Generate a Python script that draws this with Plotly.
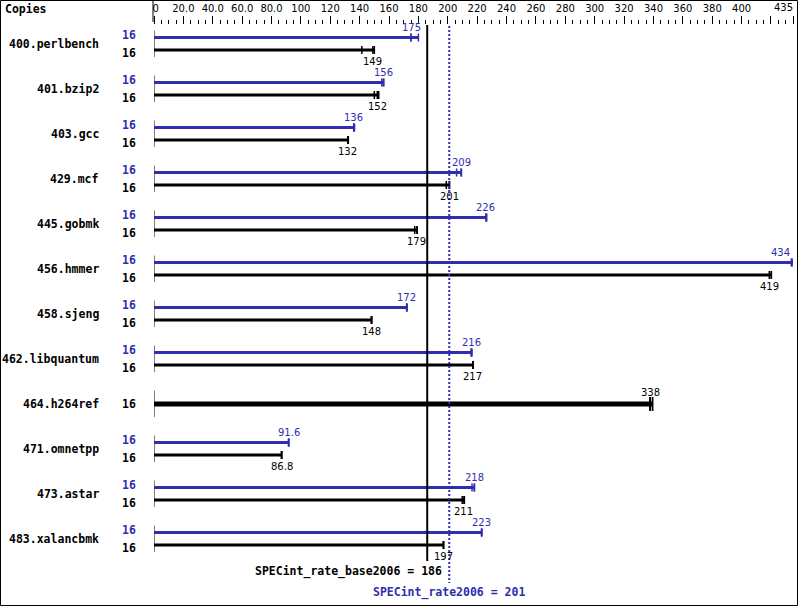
import plotly.graph_objects as go

# ---------------- data ----------------
benchmarks = ["400.perlbench", "401.bzip2", "403.gcc", "429.mcf", "445.gobmk",
              "456.hmmer", "458.sjeng", "462.libquantum", "464.h264ref",
              "471.omnetpp", "473.astar", "483.xalancbmk"]
copies_base = [16] * 12
copies_peak = [16] * 12
base_scores = [149, 152, 132, 201, 179, 419, 148, 217, 338, 86.8, 211, 197]
peak_scores = [175, 156, 136, 209, 226, 434, 172, 216, 338, 91.6, 218, 223]
base_runs = [[141.5, 149, 150], [150, 152, 153], [132, 132, 132.3], [199, 201, 201.2],
             [177.5, 179, 179.2], [419, 419, 420.3], [148, 148, 148.3], [217, 217, 217.3],
             [337.5, 338, 339.5], [86.8, 86.8, 87.0], [209.8, 211, 211.3], [197, 197, 197.2]]
peak_runs = [[175, 175, 180], [155, 156, 156.5], [136, 136, 136.5], [206, 209, 209.3],
             [226, 226, 226.5], [434, 434, 435], [172, 172, 172.3], [216, 216, 216.5],
             [337.5, 338, 339.5], [91.6, 91.6, 91.8], [216.5, 218, 218.2], [223, 223, 223.2]]
overall_base = 186
overall_peak = 201
tick_vals = [0, 20, 40, 60, 80, 100, 120, 140, 160, 180, 200, 220, 240, 260, 280,
             300, 320, 340, 360, 380, 400, 420, 435]
tick_text = ["\u00a00", "20.0", "40.0", "60.0", "80.0", "100", "120", "140", "160", "180",
             "200", "220", "240", "260", "280", "300", "320", "340", "360", "380",
             "400", "", ""]
x_max = 435
x_max_label = "435"

# ---------------- style ----------------
BLUE = "#2e2eae"
BLACK = "#000000"
MONO = "DejaVu Sans Mono"
SANS = "DejaVu Sans"
W, H = 799, 606
ML, MR, MT, MB = 154, 6, 25, 0
ROW_PX = 45
FIRST_ROW_PX = 44
plot_h = H - MT - MB
y_top = (MT - FIRST_ROW_PX) / ROW_PX
y_bot = (H - FIRST_ROW_PX) / ROW_PX

def px(p):
    return p / ROW_PX

fig = go.Figure()
annotations = []
shapes = []

def seg_trace(xs, ys, color, width):
    fig.add_trace(go.Scatter(x=xs, y=ys, mode="lines", line=dict(color=color, width=width),
                             hoverinfo="skip", showlegend=False, cliponaxis=False))

axis_x, axis_y = [], []
lines = {BLUE: ([], []), BLACK: ([], [])}
ticks = {BLUE: ([], []), BLACK: ([], [])}
thick_x, thick_y, thick_tx, thick_ty = [], [], [], []

for i, name in enumerate(benchmarks):
    axis_x += [0, 0, None]
    axis_y += [i - px(13.5), i + px(13), None]
    annotations.append(dict(x=0, y=i, xref="x", yref="y", text="<b>%s</b>" % name,
                            xanchor="right", yanchor="middle", xshift=-53, showarrow=False,
                            font=dict(family=MONO, size=11.5, color=BLACK)))
    combined = base_runs[i] == peak_runs[i]
    if combined:
        runs = base_runs[i]
        thick_x += [0, max(runs), None]
        thick_y += [i, i, None]
        for r in runs:
            thick_tx += [r, r, None]
            thick_ty += [i - px(7), i + px(7), None]
        annotations.append(dict(x=0, y=i, xref="x", yref="y", text="<b>%d</b>" % copies_base[i],
                                xanchor="right", yanchor="middle", xshift=-16, showarrow=False,
                                font=dict(family=MONO, size=11.5, color=BLACK)))
        annotations.append(dict(x=base_scores[i], y=i - px(12), xref="x", yref="y",
                                text="%g" % base_scores[i], xanchor="center", yanchor="middle",
                                showarrow=False, font=dict(family=SANS, size=10, color=BLACK)))
        continue
    for runs, score, cp, color, dy, ldy in [
        (peak_runs[i], peak_scores[i], copies_peak[i], BLUE, -px(6.5), -px(17)),
        (base_runs[i], base_scores[i], copies_base[i], BLACK, px(6), px(17)),
    ]:
        yy = i + dy
        lines[color][0].extend([0, max(runs), None])
        lines[color][1].extend([yy, yy, None])
        for r in runs:
            ticks[color][0].extend([r, r, None])
            ticks[color][1].extend([yy - px(4), yy + px(4), None])
        annotations.append(dict(x=0, y=i + (-px(9) if color == BLUE else px(9)), xref="x", yref="y",
                                text="<b>%d</b>" % cp, xanchor="right", yanchor="middle",
                                xshift=-16, showarrow=False,
                                font=dict(family=MONO, size=11.5, color=color)))
        right = score > x_max - 10
        annotations.append(dict(x=score, y=i + ldy, xref="x", yref="y", text="%g" % score,
                                xanchor="right" if right else "center", yanchor="middle",
                                showarrow=False, font=dict(family=SANS, size=10, color=color)))

seg_trace(axis_x, axis_y, BLACK, 1)
for color in (BLACK, BLUE):
    seg_trace(lines[color][0], lines[color][1], color, 3)
    seg_trace(ticks[color][0], ticks[color][1], color, 1.5)
seg_trace(thick_x, thick_y, BLACK, 5)
seg_trace(thick_tx, thick_ty, BLACK, 1.5)

# overall score lines
shapes.append(dict(type="line", xref="x", yref="y", x0=overall_base, x1=overall_base,
                   y0=y_top - px(3), y1=11 + px(517 - 495), line=dict(color=BLACK, width=2), layer="above"))
shapes.append(dict(type="line", xref="x", yref="y", x0=overall_peak, x1=overall_peak,
                   y0=y_top - px(3), y1=11 + px(539 - 495), line=dict(color=BLUE, width=2, dash="2px,2px"),
                   layer="above"))
annotations.append(dict(x=overall_peak, y=11 + px(571 - 539), xref="x", yref="y",
                        text="<b>SPECint_rate_base2006 = %d</b>" % overall_base,
                        xanchor="right", yanchor="middle", xshift=-5, showarrow=False,
                        font=dict(family=MONO, size=11.5, color=BLACK)))
annotations.append(dict(x=overall_peak, y=11 + px(592 - 539), xref="x", yref="y",
                        text="<b>SPECint_rate2006 = %d</b>" % overall_peak,
                        xanchor="center", yanchor="middle", showarrow=False,
                        font=dict(family=MONO, size=11.5, color=BLUE)))

# header
annotations.append(dict(x=0, y=1 + 16 / plot_h, xref="paper", yref="paper", text="<b>Copies</b>",
                        xanchor="right", yanchor="middle", xshift=-105, showarrow=False,
                        font=dict(family=MONO, size=11.5, color=BLACK)))
annotations.append(dict(x=x_max, y=1 + 17 / plot_h, xref="x", yref="paper", text=x_max_label,
                        xanchor="right", yanchor="middle", xshift=2, showarrow=False,
                        font=dict(family=SANS, size=10, color=BLACK)))
pw = W - ML - MR
shapes.append(dict(type="line", xref="paper", yref="paper", x0=-1 / pw, x1=-1 / pw,
                   y0=1 + 3 / plot_h, y1=1 + MT / plot_h, line=dict(color=BLACK, width=1)))
# frame
shapes.append(dict(type="rect", xref="paper", yref="paper",
                   x0=-(ML - 0.5) / pw, x1=(W - ML - 1.5) / pw,
                   y0=1 - (H - MT - 0.5) / plot_h, y1=1 + (MT - 0.5) / plot_h,
                   line=dict(color=BLACK, width=1)))

fig.update_layout(
    width=W, height=H, margin=dict(l=ML, r=MR, t=MT, b=MB, autoexpand=False),
    paper_bgcolor="white", plot_bgcolor="white",
    showlegend=False, annotations=annotations, shapes=shapes,
    xaxis=dict(range=[0, x_max], side="top", tickmode="array", tickvals=tick_vals,
               ticktext=tick_text, ticks="outside", ticklen=8, tickwidth=1, tickcolor=BLACK,
               showgrid=False, zeroline=False, showline=False, ticklabeloverflow="allow",
               automargin=False,
               tickfont=dict(family=SANS, size=10, color=BLACK),
               minor=dict(tickmode="linear", tick0=0, dtick=5, ticks="outside", ticklen=4,
                          tickwidth=1, tickcolor=BLACK, showgrid=False)),
    yaxis=dict(range=[y_bot, y_top], visible=False, showgrid=False, zeroline=False,
               automargin=False),
)
fig.write_html("out.html", config={"displayModeBar": False},
               post_script="document.body.style.margin='0px';")
